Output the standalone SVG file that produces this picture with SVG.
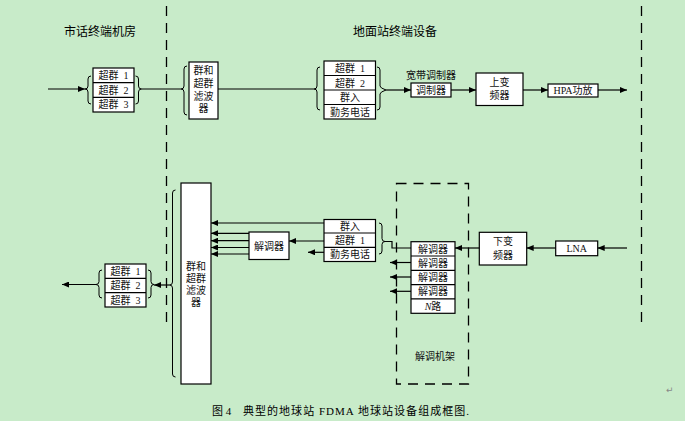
<svg xmlns="http://www.w3.org/2000/svg" width="685" height="421" viewBox="0 0 685 421">
<style>
.bg{fill:#c8ebc9}
.box{fill:#fff;stroke:#000;stroke-width:1.2}
.ln{fill:none;stroke:#000;stroke-width:1.2}
.br{fill:none;stroke:#000;stroke-width:1}
.dash{fill:none;stroke:#000;stroke-width:1.3;stroke-dasharray:10 7}
.t{font-family:"Liberation Serif","Noto Sans CJK SC",serif;font-size:10px;fill:#111;text-anchor:middle}
.h{font-family:"Noto Sans CJK SC",sans-serif;font-size:12px;fill:#000;text-anchor:middle}
.cap{font-family:"Liberation Serif","Noto Sans CJK SC",serif;font-size:11px;fill:#000}
</style>
<defs>
<marker id="ah" viewBox="0 0 7 6" refX="7" refY="3" markerWidth="7" markerHeight="6" orient="auto" markerUnits="userSpaceOnUse"><path d="M0,0 L7,3 L0,6 Z" fill="#000"/></marker>
</defs>
<rect class="bg" x="0" y="0" width="685" height="421"/>

<g id="dividers">
<line class="dash" x1="166.5" y1="6" x2="166.5" y2="326"/>
<line class="dash" x1="641.5" y1="6" x2="641.5" y2="326"/>
</g>

<g id="titles">
<text class="h" x="100" y="36">市话终端机房</text>
<text class="h" x="395" y="36">地面站终端设备</text>
</g>

<g id="tl-stack">
<rect class="box" x="93" y="68" width="41" height="44"/>
<line class="ln" x1="93" y1="82.7" x2="134" y2="82.7"/>
<line class="ln" x1="93" y1="97.3" x2="134" y2="97.3"/>
<text class="t" x="113.5" y="79" xml:space="preserve">超群  1</text>
<text class="t" x="113.5" y="93.5" xml:space="preserve">超群  2</text>
<text class="t" x="113.5" y="108" xml:space="preserve">超群  3</text>
<path class="br" d="M91,76 Q88,76 88,79 L88,86 Q88,89 85,89 Q88,89 88,92 L88,101 Q88,104 91,104"/>
<path class="br" d="M135.5,76 Q138.5,76 138.5,79 L138.5,86 Q138.5,89 141.5,89 Q138.5,89 138.5,92 L138.5,101 Q138.5,104 135.5,104"/>
</g>

<g id="top-filter">
<rect class="box" x="189" y="62" width="29" height="57"/>
<text class="t" x="203.5" y="74">群和</text>
<text class="t" x="203.5" y="87">超群</text>
<text class="t" x="203.5" y="99.5">滤波</text>
<text class="t" x="203.5" y="112">器</text>
<path class="br" d="M187,66 Q184,66 184,69 L184,86 Q184,89 181,89 Q184,89 184,92 L184,112 Q184,115 187,115"/>
</g>

<g id="top-mux">
<rect class="box" x="324" y="61" width="51.5" height="58"/>
<line class="ln" x1="324" y1="75.5" x2="375.5" y2="75.5"/>
<line class="ln" x1="324" y1="90" x2="375.5" y2="90"/>
<line class="ln" x1="324" y1="104.5" x2="375.5" y2="104.5"/>
<text class="t" x="350" y="72" xml:space="preserve">超群  1</text>
<text class="t" x="350" y="86.5" xml:space="preserve">超群  2</text>
<text class="t" x="350" y="101">群入</text>
<text class="t" x="350" y="115.5">勤务电话</text>
<path class="br" d="M320,67 Q317,67 317,70 L317,86 Q317,89 314,89 Q317,89 317,92 L317,107 Q317,110 320,110"/>
<path class="br" d="M377,67 Q380,67 380,70 L380,86 Q380,88 386,90 Q380,92 380,94 L380,107 Q380,110 377,110"/>
</g>

<g id="modulator">
<text class="t" x="431" y="79">宽带调制器</text>
<rect class="box" x="411" y="83" width="40" height="14"/>
<text class="t" x="431" y="93.5">调制器</text>
</g>

<g id="upconverter">
<rect class="box" x="476" y="73" width="47" height="32.5"/>
<text class="t" x="499.5" y="86">上变</text>
<text class="t" x="499.5" y="99">频器</text>
</g>

<g id="hpa">
<rect class="box" x="548" y="84" width="50" height="13"/>
<text class="t" x="573" y="94">HPA功放</text>
</g>

<g id="big-filter">
<rect class="box" x="181" y="183" width="30" height="201"/>
<text class="t" x="196" y="270">群和</text>
<text class="t" x="196" y="282">超群</text>
<text class="t" x="196" y="294">滤波</text>
<text class="t" x="196" y="305.5">器</text>
<path class="br" d="M175.5,190 Q172.5,190 172.5,193 L172.5,282 Q172.5,285 169.5,285 Q172.5,285 172.5,288 L172.5,374 Q172.5,377 175.5,377"/>
</g>

<g id="demod-single">
<rect class="box" x="249" y="232" width="40" height="27.5"/>
<text class="t" x="269" y="249.5">解调器</text>
</g>

<g id="bottom-mux">
<rect class="box" x="324" y="219.5" width="51.5" height="42"/>
<line class="ln" x1="324" y1="233" x2="375.5" y2="233"/>
<line class="ln" x1="324" y1="247.3" x2="375.5" y2="247.3"/>
<text class="t" x="350" y="229.5">群入</text>
<text class="t" x="350" y="244" xml:space="preserve">超群  1</text>
<text class="t" x="350" y="258">勤务电话</text>
<path class="br" d="M379,223 Q382,223 382,226 L382,238.5 Q382,241.5 385,241.5 Q382,241.5 382,244.5 L382,251 Q382,254 379,254"/>
</g>

<g id="demod-rack">
<rect class="dash" x="396.5" y="183.5" width="72" height="200.5"/>
<rect class="box" x="411" y="241.7" width="44" height="71.6"/>
<line class="ln" x1="411" y1="256" x2="455" y2="256"/>
<line class="ln" x1="411" y1="270.3" x2="455" y2="270.3"/>
<line class="ln" x1="411" y1="284.6" x2="455" y2="284.6"/>
<line class="ln" x1="411" y1="298.9" x2="455" y2="298.9"/>
<text class="t" x="433" y="252.5">解调器</text>
<text class="t" x="433" y="266.8">解调器</text>
<text class="t" x="433" y="281">解调器</text>
<text class="t" x="433" y="295.3">解调器</text>
<text class="t" x="433" y="309.7"><tspan font-style="italic">N</tspan>路</text>
<text class="t" x="435" y="359.5">解调机架</text>
</g>

<g id="downconverter">
<rect class="box" x="479.3" y="232.3" width="47.4" height="32.7"/>
<text class="t" x="503" y="245">下变</text>
<text class="t" x="503" y="258.5">频器</text>
</g>

<g id="lna">
<rect class="box" x="555.7" y="241" width="42" height="14.7"/>
<text class="t" x="576.7" y="252">LNA</text>
</g>

<g id="bl-stack">
<rect class="box" x="105" y="264" width="41" height="43"/>
<line class="ln" x1="105" y1="278.3" x2="146" y2="278.3"/>
<line class="ln" x1="105" y1="292.7" x2="146" y2="292.7"/>
<text class="t" x="125.5" y="275" xml:space="preserve">超群  1</text>
<text class="t" x="125.5" y="289.3" xml:space="preserve">超群  2</text>
<text class="t" x="125.5" y="303.5" xml:space="preserve">超群  3</text>
<path class="br" d="M102,270 Q99,270 99,273 L99,281.5 Q99,284.5 96,284.5 Q99,284.5 99,287.5 L99,295 Q99,298 102,298"/>
<path class="br" d="M148,270 Q151,270 151,273 L151,281.5 Q151,284.5 154,284.5 Q151,284.5 151,287.5 L151,295 Q151,298 148,298"/>
</g>

<g id="connectors">
<line class="ln" x1="48" y1="89" x2="85" y2="89" marker-end="url(#ah)"/>
<line class="ln" x1="141.5" y1="89" x2="181" y2="89"/>
<line class="ln" x1="218" y1="89" x2="314" y2="89"/>
<line class="ln" x1="386" y1="90" x2="411" y2="90" marker-end="url(#ah)"/>
<line class="ln" x1="451" y1="90" x2="476" y2="90" marker-end="url(#ah)"/>
<line class="ln" x1="523" y1="90" x2="548" y2="90" marker-end="url(#ah)"/>
<line class="ln" x1="598" y1="90" x2="627" y2="90" marker-end="url(#ah)"/>
<line class="ln" x1="324" y1="223" x2="211" y2="223" marker-end="url(#ah)"/>
<line class="ln" x1="324" y1="241" x2="289" y2="241" marker-end="url(#ah)"/>
<line class="ln" x1="249" y1="233.3" x2="211" y2="233.3" marker-end="url(#ah)"/>
<line class="ln" x1="249" y1="240.7" x2="211" y2="240.7" marker-end="url(#ah)"/>
<line class="ln" x1="249" y1="247.5" x2="211" y2="247.5" marker-end="url(#ah)"/>
<line class="ln" x1="249" y1="254" x2="211" y2="254" marker-end="url(#ah)"/>
<line class="ln" x1="324" y1="252.3" x2="308" y2="252.3" marker-end="url(#ah)"/>
<polyline class="ln" points="385,241.5 392,241.5 392,248 411,248"/>
<line class="ln" x1="411" y1="262.5" x2="390" y2="262.5" marker-end="url(#ah)"/>
<line class="ln" x1="411" y1="277" x2="390" y2="277" marker-end="url(#ah)"/>
<line class="ln" x1="411" y1="291.3" x2="390" y2="291.3" marker-end="url(#ah)"/>
<line class="ln" x1="479.3" y1="248" x2="455" y2="248" marker-end="url(#ah)"/>
<line class="ln" x1="555.7" y1="248" x2="526.7" y2="248" marker-end="url(#ah)"/>
<line class="ln" x1="627" y1="248" x2="597.7" y2="248" marker-end="url(#ah)"/>
<line class="ln" x1="169.5" y1="285" x2="154" y2="285" marker-end="url(#ah)"/>
<line class="ln" x1="96" y1="284.5" x2="62" y2="284.5" marker-end="url(#ah)"/>
</g>

<g id="caption">
<text class="cap" x="212" y="415">图 4</text>
<text class="cap" x="243" y="415" textLength="226" lengthAdjust="spacing">典型的地球站 FDMA 地球站设备组成框图.</text>
<text x="666" y="393" style="font-family:'DejaVu Sans',sans-serif;font-size:9px;fill:#888">↵</text>
</g>
</svg>
